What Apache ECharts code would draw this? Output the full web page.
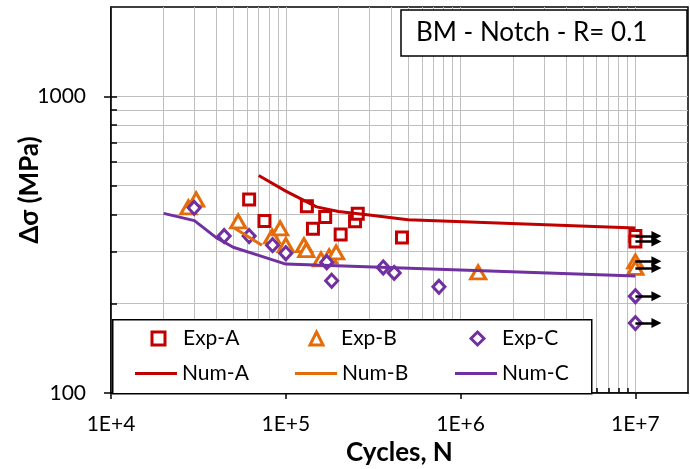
<!DOCTYPE html>
<html><head><meta charset="utf-8">
<script src="https://cdn.jsdelivr.net/npm/echarts@6/dist/echarts.min.js"></script>
<style>html,body{margin:0;padding:0;background:#fff}#c{width:690px;height:469px}</style>
</head><body><div id="c"></div>
<script>
// ---- data (cycles N, stress range MPa) ----
const expA_N = [6.17e4, 7.55e4, 1.32e5, 1.43e5, 1.68e5, 2.06e5, 2.49e5, 2.58e5, 4.62e5];
const expA_S = [449, 380, 426, 358, 392, 342, 379, 402, 334];
const expB_N = [2.77e4, 3.07e4, 5.34e4, 8.35e4, 9.28e4, 1.0e5, 1.27e5, 1.31e5, 1.59e5, 1.77e5, 1.94e5, 1.26e6];
const expB_S = [422, 449, 379, 337, 359, 315, 315, 303, 282, 289, 298, 255];
const expC_N = [2.99e4, 4.44e4, 6.17e4, 8.4e4, 1.0e5, 1.715e5, 1.83e5, 3.61e5, 4.17e5, 7.52e5];
const expC_S = [421, 338, 338, 315, 296, 276, 239, 265, 254, 228];
const runoutN = 1e7;          // run-out tests (arrows)
const arrowN = 1.32e7;        // arrow tip cycles
const runoutA_S = [338, 324];
const runoutB_S = [278, 264];
const runoutC_S = [212, 172];
const numA_N = [7e4, 1e5, 1.5e5, 2e5, 3e5, 5e5, 1e7];
const numA_S = [541, 479, 424, 409, 398, 384, 360];
const numB_N = [5.1e4, 7.3e4];
const numB_S = [359, 315];
const numC_N = [2e4, 3e4, 4e4, 5e4, 7e4, 1e5, 1e7];
const numC_S = [403, 381, 334, 310, 291, 272, 248];
const xMajor = [1e4, 1e5, 1e6, 1e7];
const xMajorLabels = ['1E+4', '1E+5', '1E+6', '1E+7'];
const xMinorMult = [2, 3, 4, 5, 6, 7, 8, 9];
const yMajor = [100, 1000];
const yMajorLabels = ['100', '1000'];
const yMinor = [100, 200, 300, 400, 500, 600, 700, 800, 900, 1000];

const xMinor = [];
[1e4, 1e5, 1e6].forEach(b => xMinorMult.forEach(m => xMinor.push(m * b)));

const FONT = 'Lato, "Open Sans", sans-serif';
const RED = '#C00000', ORANGE = '#E46C0A', PURPLE = '#7030A0', GRID = '#BFBFBF';

function lab(vals, labels) {
  return v => {
    const i = vals.findIndex(t => Math.abs(Math.log10(t) - Math.log10(v)) < 1e-6);
    return i >= 0 ? labels[i] : '';
  };
}
const pts = (N, S) => N.map((n, i) => [n, S[i]]);
const runPts = S => S.map(s => [runoutN, s]);

const richA = { a: { fontSize: 21, lineHeight: 22, fontFamily: FONT, color: '#000', padding: [0, 0, 0, 13] } };
function expLegend(name, icon, color, left) {
  return {
    left: left, top: 328, itemWidth: 13, itemHeight: 13, padding: 0, selectedMode: false, z: 6,
    formatter: '{a|{name}}',
    textStyle: { color: '#000', fontSize: 21, fontFamily: FONT, rich: richA },
    data: [{ name: name, icon: icon, itemStyle: { color: '#fff', borderColor: color, borderWidth: 3 } }]
  };
}

const chart = echarts.init(document.getElementById('c'));
chart.setOption({
  animation: false,
  backgroundColor: '#fff',
  grid: { left: 111, right: 2, top: 7, bottom: 76, show: true, borderColor: '#000', borderWidth: 1.5, backgroundColor: '#fff',
          containLabel: false, outerBoundsMode: 'none' },
  title: {
    text: 'BM - Notch - R= 0.1', left: 401, top: 10,
    borderColor: '#000', borderWidth: 1.5, backgroundColor: '#fff',
    padding: [10, 40, 10, 15],
    textStyle: { fontSize: 26, fontWeight: 'normal', color: '#000', fontFamily: FONT }
  },
  graphic: [{
    type: 'rect', left: 112, top: 319, z: 1,
    shape: { width: 479, height: 74 },
    style: { fill: '#fff', stroke: '#000', lineWidth: 1.5 }
  }],
  xAxis: [{
    type: 'log', logBase: 10, min: 1e4, max: 2e7, position: 'bottom',
    axisLine: { lineStyle: { color: '#000', width: 1.5 } },
    axisTick: { show: true, inside: false, length: 6, customValues: xMajor, lineStyle: { color: '#000', width: 1.5 } },
    axisLabel: { customValues: xMajor, formatter: lab(xMajor, xMajorLabels), margin: 21, fontSize: 21, color: '#000', fontFamily: FONT },
    splitLine: { show: true, lineStyle: { color: GRID, width: 1 } },
    name: 'Cycles, N', nameLocation: 'middle', nameGap: 44,
    nameTextStyle: { fontSize: 26, fontWeight: 'bold', color: '#000', fontFamily: FONT }
  }, {
    type: 'log', logBase: 10, min: 1e4, max: 2e7, position: 'bottom',
    axisLine: { show: false },
    axisLabel: { show: false },
    axisTick: { show: true, inside: true, length: 5, customValues: xMinor, lineStyle: { color: '#000', width: 1.5 } },
    splitLine: { show: true, lineStyle: { color: GRID, width: 1 } }
  }],
  yAxis: [{
    type: 'log', logBase: 10, min: 100, max: 2000, position: 'left',
    axisLine: { lineStyle: { color: '#000', width: 1.5 } },
    axisTick: { show: true, inside: false, length: 7, customValues: yMajor, lineStyle: { color: '#000', width: 1.5 } },
    axisLabel: { customValues: yMajor, formatter: lab(yMajor, yMajorLabels), margin: 25, fontSize: 21, color: '#000', fontFamily: FONT },
    splitLine: { show: true, lineStyle: { color: GRID, width: 1 } }
  }, {
    type: 'log', logBase: 10, min: 100, max: 2000, position: 'left',
    axisLine: { show: false },
    axisLabel: { show: false },
    axisTick: { show: true, inside: true, length: 6, customValues: yMinor, lineStyle: { color: '#000', width: 1.5 } },
    splitLine: { show: true, lineStyle: { color: GRID, width: 1 } },
    name: 'Δσ (MPa)', nameLocation: 'middle', nameGap: 68,
    nameTextStyle: { fontSize: 26, fontWeight: 'bold', color: '#000', fontFamily: FONT, padding: [0, 0, 0, 20] }
  }],
  legend: [
    expLegend('Exp-A', 'rect', RED, 150.5),
    expLegend('Exp-B', 'triangle', ORANGE, 308.5),
    expLegend('Exp-C', 'diamond', PURPLE, 469.5),
    {
      left: 135, top: 363, itemWidth: 42, itemHeight: 3, itemGap: 28, padding: 0, selectedMode: false, z: 6,
      formatter: '{a|{name}}',
      textStyle: { color: '#000', fontSize: 21, fontFamily: FONT, rich: { a: { width: 85, fontSize: 21, lineHeight: 22, fontFamily: FONT, color: '#000' } } },
      data: [
        { name: 'Num-A', icon: 'rect', itemStyle: { color: RED, borderWidth: 0 } },
        { name: 'Num-B', icon: 'rect', itemStyle: { color: ORANGE, borderWidth: 0 } },
        { name: 'Num-C', icon: 'rect', itemStyle: { color: PURPLE, borderWidth: 0 } }
      ]
    }
  ],
  series: [
    { name: 'Exp-A', type: 'scatter', data: pts(expA_N, expA_S).concat(runPts(runoutA_S)), symbol: 'rect', symbolSize: 11,
      itemStyle: { color: '#fff', borderColor: RED, borderWidth: 3, opacity: 1 }, z: 3 },
    { name: 'Exp-B', type: 'scatter', data: pts(expB_N, expB_S).concat(runPts(runoutB_S)), symbol: 'triangle', symbolSize: [15, 13],
      itemStyle: { color: '#fff', borderColor: ORANGE, borderWidth: 3, opacity: 1 }, z: 3 },
    { name: 'Exp-C', type: 'scatter', data: pts(expC_N, expC_S).concat(runPts(runoutC_S)), symbol: 'diamond', symbolSize: [12, 13],
      itemStyle: { color: '#fff', borderColor: PURPLE, borderWidth: 3, opacity: 1 }, z: 3 },
    { name: 'Num-A', type: 'line', data: pts(numA_N, numA_S), symbol: 'none', lineStyle: { color: RED, width: 3 }, itemStyle: { color: RED }, z: 4 },
    { name: 'Num-B', type: 'line', data: pts(numB_N, numB_S), symbol: 'none', lineStyle: { color: ORANGE, width: 3 }, itemStyle: { color: ORANGE }, z: 4 },
    { name: 'Num-C', type: 'line', data: pts(numC_N, numC_S), symbol: 'none', lineStyle: { color: PURPLE, width: 3 }, itemStyle: { color: PURPLE }, z: 4 },
    { name: 'runout', type: 'lines', coordinateSystem: 'cartesian2d', z: 5, silent: true,
      symbol: ['none', 'triangle'], symbolSize: 10,
      lineStyle: { color: '#000', width: 2.5, opacity: 1 },
      data: runoutA_S.concat(runoutB_S, runoutC_S).map(s => ({ coords: [[runoutN, s], [arrowN, s]] })) }
  ]
});
</script>
</body></html>
